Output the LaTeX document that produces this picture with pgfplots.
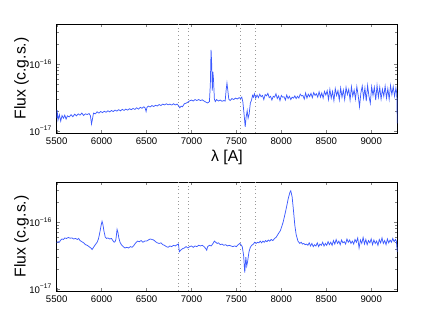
\documentclass[border=0pt]{standalone}
\usepackage{fontspec}
\setmainfont{Liberation Sans}
\usepackage{pgfplots}
\pgfplotsset{compat=1.18}

% flux values are in units of 1e-17 erg/s/cm^2/A; y ticks relabelled
\definecolor{specblue}{RGB}{60,90,255}
\newcommand{\decade}[1]{10\raisebox{0.9ex}{\fontsize{5}{5}\selectfont −#1}}

\begin{document}
\begin{tikzpicture}
\path[use as bounding box] (0,0) rectangle (330pt,248.25pt);

% ---------------- top panel ----------------
\begin{axis}[
    at={(42.5pt,148.5pt)}, anchor=south west,
    scale only axis,
    width=255.45pt, height=81.75pt,
    ymode=log,
    xmin=5500, xmax=9290,
    ymin=0.93, ymax=40,
    xtick={5500,6000,...,9000},
    ytick={1,10},
    yticklabels={\decade{17},\decade{16}},
    minor ytick={2,3,4,5,6,7,8,9,20,30,40},
    xticklabel style={/pgf/number format/assume math mode=true,
                      /pgf/number format/set thousands separator={}},
    tick label style={font=\fontsize{7.2}{8}\selectfont},
    yticklabel style={xshift=-0.5pt},
    label style={font=\fontsize{11.8}{13}\selectfont},
    major tick length=2.6pt, minor tick length=1.5pt,
    ylabel={Flux (c.g.s.)},
    ylabel style={at={(axis description cs:-0.103,0.5)}, anchor=center},
    xlabel={λ [A]},
    xlabel style={at={(axis description cs:0.5,-0.22)}, anchor=center},
  ]
  \addplot[gray!80, line width=0.5pt, dash pattern=on 0.6pt off 2.2pt] coordinates {(6850,0.93) (6850,40)};
  \addplot[gray!80, line width=0.5pt, dash pattern=on 0.6pt off 2.2pt] coordinates {(6960,0.93) (6960,40)};
  \addplot[gray!80, line width=0.5pt, dash pattern=on 0.6pt off 2.2pt] coordinates {(7545,0.93) (7545,40)};
  \addplot[gray!80, line width=0.5pt, dash pattern=on 0.6pt off 2.2pt] coordinates {(7710,0.93) (7710,40)};
  \addplot[specblue, line width=0.55pt, mark=none] table {
5500 1.55
5505 2.05
5515 1.45
5530 1.75
5545 1.40
5560 1.70
5575 1.55
5590 1.72
5605 1.50
5620 1.68
5640 1.62
5660 1.75
5680 1.63
5700 1.78
5720 1.68
5740 1.80
5760 1.72
5780 1.85
5800 1.70
5820 1.80
5840 1.76
5860 1.82
5875 1.70
5888 1.27
5898 1.50
5910 1.85
5930 1.80
5950 1.93
5970 1.85
5990 1.95
6010 1.88
6030 1.97
6050 1.90
6070 2.00
6090 1.93
6110 2.02
6130 1.95
6150 2.05
6170 1.98
6190 2.08
6210 2.00
6230 2.10
6250 2.03
6270 2.12
6290 2.05
6310 2.15
6330 2.08
6350 2.17
6370 2.10
6390 2.22
6410 2.12
6430 2.25
6450 2.18
6470 2.30
6485 2.20
6495 1.95
6505 2.25
6520 2.35
6540 2.28
6560 2.40
6580 2.32
6600 2.42
6620 2.36
6640 2.48
6660 2.40
6680 2.52
6700 2.45
6720 2.55
6740 2.46
6760 2.52
6780 2.44
6800 2.55
6820 2.45
6840 2.52
6855 2.40
6870 2.22
6885 2.35
6900 2.30
6920 2.55
6940 2.60
6960 2.70
6980 2.82
7000 2.90
7020 2.80
7040 2.95
7060 2.85
7080 2.95
7100 2.85
7120 2.92
7140 2.80
7160 2.70
7180 2.62
7200 2.75
7210 5.0
7218 16.4
7225 10.0
7232 4.0
7238 7.7
7245 6.0
7255 3.0
7265 2.75
7280 2.95
7300 2.80
7320 2.90
7340 2.78
7360 2.85
7375 2.80
7385 4.0
7395 5.2
7405 4.0
7415 3.0
7430 2.85
7450 3.05
7470 2.95
7490 3.10
7510 3.00
7530 3.15
7545 3.05
7560 3.20
7572 2.70
7585 1.80
7598 1.15
7608 1.60
7620 2.00
7630 1.55
7642 1.80
7655 2.60
7668 2.90
7680 3.40
7690 3.20
7700 3.60
7715 3.10
7730 3.45
7745 3.15
7760 3.55
7775 3.25
7790 3.40
7805 2.95
7820 3.50
7835 3.35
7850 3.65
7865 3.15
7880 3.30
7895 2.90
7910 3.30
7925 3.20
7940 3.60
7955 3.05
7970 3.35
7985 2.85
8000 3.40
8015 3.20
8030 3.25
8045 2.90
8060 3.45
8075 3.05
8090 3.30
8105 2.95
8120 3.20
8135 3.10
8150 3.35
8165 3.05
8180 3.30
8195 3.10
8210 3.55
8225 3.35
8240 3.40
8255 3.00
8270 3.70
8285 3.10
8300 3.55
8315 3.25
8330 3.65
8345 3.15
8360 3.75
8375 3.40
8390 3.60
8405 3.20
8420 3.85
8435 3.20
8450 3.70
8465 3.10
8480 3.90
8495 3.45
8510 4.00
8525 2.95
8540 4.20
8555 3.10
8570 3.90
8585 2.85
8600 4.30
8615 3.40
8630 4.00
8645 2.90
8660 4.40
8675 3.20
8690 4.10
8705 2.95
8720 4.50
8735 3.50
8750 4.20
8765 2.90
8780 4.60
8795 3.30
8810 4.10
8825 3.00
8840 4.60
8855 3.40
8870 2.30
8885 3.70
8900 4.70
8915 3.10
8930 4.40
8945 2.80
8960 4.80
8975 3.30
8990 2.60
9005 4.60
9020 3.40
9035 4.50
9050 2.90
9065 4.80
9080 3.20
9095 4.50
9110 3.00
9125 4.20
9140 3.30
9155 4.70
9170 3.10
9185 4.30
9200 3.00
9215 4.80
9230 3.50
9245 4.60
9260 3.30
9275 4.40
9285 3.60
9290 1.30
  };
\end{axis}

% ---------------- bottom panel ----------------
\begin{axis}[
    at={(42.5pt,30pt)}, anchor=south west,
    scale only axis,
    width=255.45pt, height=81.75pt,
    ymode=log,
    xmin=5500, xmax=9290,
    ymin=0.93, ymax=40,
    xtick={5500,6000,...,9000},
    ytick={1,10},
    yticklabels={\decade{17},\decade{16}},
    minor ytick={2,3,4,5,6,7,8,9,20,30,40},
    xticklabel style={/pgf/number format/assume math mode=true,
                      /pgf/number format/set thousands separator={}},
    tick label style={font=\fontsize{7.2}{8}\selectfont},
    yticklabel style={xshift=-0.5pt},
    label style={font=\fontsize{11.8}{13}\selectfont},
    major tick length=2.6pt, minor tick length=1.5pt,
    ylabel={Flux (c.g.s.)},
    ylabel style={at={(axis description cs:-0.103,0.5)}, anchor=center},
  ]
  \addplot[gray!80, line width=0.5pt, dash pattern=on 0.6pt off 2.2pt] coordinates {(6850,0.93) (6850,40)};
  \addplot[gray!80, line width=0.5pt, dash pattern=on 0.6pt off 2.2pt] coordinates {(6960,0.93) (6960,40)};
  \addplot[gray!80, line width=0.5pt, dash pattern=on 0.6pt off 2.2pt] coordinates {(7545,0.93) (7545,40)};
  \addplot[gray!80, line width=0.5pt, dash pattern=on 0.6pt off 2.2pt] coordinates {(7710,0.93) (7710,40)};
  \addplot[specblue, line width=0.55pt, mark=none] table {
5500 4.9
5515 5.1
5530 5.0
5545 5.4
5560 5.6
5575 5.5
5590 5.8
5610 5.7
5630 5.9
5650 5.75
5670 5.8
5690 5.6
5710 5.7
5730 5.5
5745 5.7
5760 5.3
5780 5.1
5800 4.9
5820 4.6
5840 4.5
5860 4.3
5880 4.1
5895 3.9
5910 4.2
5930 4.6
5950 5.0
5965 5.6
5980 7.0
5995 9.0
6005 10.3
6015 9.2
6025 7.5
6040 6.0
6055 5.7
6070 5.8
6090 5.6
6110 5.7
6125 5.3
6140 5.0
6150 5.1
6160 5.6
6172 7.8
6182 7.0
6192 5.8
6205 5.0
6220 4.6
6240 4.3
6260 4.1
6280 4.2
6300 4.1
6320 4.3
6340 4.2
6360 4.5
6380 4.9
6400 5.2
6420 5.1
6440 5.3
6460 5.0
6480 5.2
6500 5.2
6520 5.4
6540 5.6
6560 5.5
6580 5.4
6600 5.1
6620 4.9
6640 4.8
6660 4.9
6680 4.6
6700 4.5
6720 4.3
6740 4.2
6760 4.4
6780 4.3
6800 4.5
6820 4.4
6840 4.6
6855 4.7
6865 3.6
6880 3.8
6900 4.0
6920 4.1
6940 4.3
6960 4.1
6980 4.3
7000 4.4
7020 4.2
7040 4.4
7060 4.3
7080 4.5
7100 4.4
7120 4.5
7140 4.3
7160 4.0
7170 3.8
7180 4.3
7200 4.5
7220 4.4
7240 4.8
7255 5.2
7270 5.0
7285 4.8
7300 4.9
7320 4.6
7340 4.7
7360 4.5
7380 4.6
7400 4.4
7420 4.5
7440 4.4
7460 4.3
7480 4.4
7500 4.3
7520 4.6
7537 4.8
7550 4.6
7565 4.3
7580 3.2
7593 1.75
7605 3.0
7615 2.2
7625 2.6
7640 3.6
7655 4.2
7670 4.5
7690 4.7
7703 5.0
7720 4.8
7735 5.0
7750 4.9
7765 5.2
7780 4.9
7795 5.2
7810 5.0
7825 5.3
7840 5.1
7855 5.4
7870 5.2
7888 5.5
7905 5.3
7926 5.7
7945 6.0
7963 6.6
7990 7.5
8020 10.0
8050 15.0
8075 22.0
8095 28.0
8105 29.5
8120 24.0
8135 15.0
8150 9.0
8165 6.5
8185 5.2
8205 4.8
8220 5.0
8235 4.7
8250 4.8
8265 4.6
8280 4.7
8295 4.5
8310 4.9
8325 4.4
8340 4.8
8355 4.3
8370 4.6
8385 4.4
8400 4.9
8415 4.3
8430 4.7
8445 4.5
8460 5.0
8475 4.4
8490 4.8
8505 4.5
8520 5.1
8535 4.6
8550 5.0
8565 4.5
8580 5.3
8595 4.7
8610 5.5
8625 4.8
8640 5.2
8655 4.6
8670 5.4
8685 4.9
8700 5.1
8715 4.7
8730 5.6
8745 5.0
8760 5.4
8775 4.8
8790 5.2
8805 4.7
8820 5.5
8835 5.0
8850 5.8
8865 4.1
8880 5.4
8895 4.8
8910 5.9
8925 4.7
8940 5.5
8955 4.6
8970 5.3
8985 4.9
9000 5.6
9015 4.6
9030 5.4
9045 4.8
9060 5.2
9075 4.5
9090 5.5
9105 4.9
9120 5.8
9135 4.8
9150 5.3
9165 4.6
9180 5.6
9195 4.9
9210 5.4
9225 5.0
9240 5.7
9255 5.1
9270 5.5
9280 5.2
9290 3.6
  };
\end{axis}
\end{tikzpicture}
\end{document}
